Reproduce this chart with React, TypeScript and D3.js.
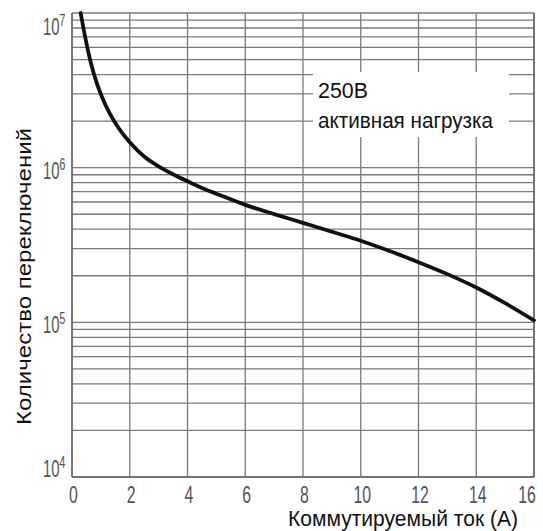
import React from "react";
import * as d3 from "d3";

const currentA = [0.3, 0.45, 0.55, 0.65, 0.85, 1.05, 1.3, 1.6, 2.0, 2.5, 3.0, 3.6, 4.0, 4.5, 5, 6, 7, 8, 9, 10, 11, 12, 13, 14, 15, 16];
const cycles = [1.0e7, 7.08e6, 5.75e6, 4.79e6, 3.56e6, 2.83e6, 2.25e6, 1.82e6, 1.46e6, 1.18e6, 1.02e6, 8.87e5, 8.17e5, 7.4e5, 6.79e5, 5.75e5, 5.01e5, 4.4e5, 3.85e5, 3.37e5, 2.89e5, 2.45e5, 2.05e5, 1.68e5, 1.33e5, 1.03e5];
const xTicks = [0, 2, 4, 6, 8, 10, 12, 14, 16];
const yDecades = [4, 5, 6, 7];
const xTitle = "Коммутируемый ток  (А)";
const yTitle = "Количество переключений";
const noteLines = ["250В", "активная нагрузка"];

export default function App() {
  const W = 543, H = 531;
  const left = 72, right = 534, top = 13, bottom = 477;
  const x = d3.scaleLinear().domain([0, 16]).range([left, right]);
  const y = d3.scaleLog().domain([1e4, 1e7]).range([bottom, top]);

  const gridY: number[] = [];
  for (let d = 4; d < 7; d++) for (let m = 1; m <= 9; m++) gridY.push(m * Math.pow(10, d));
  gridY.push(1e7);

  const data = currentA.map((c, i) => [c, cycles[i]] as [number, number]);
  const line = d3.line<[number, number]>().x(d => x(d[0])).y(d => y(d[1])).curve(d3.curveMonotoneX);

  const grid = "#7a7a7a";
  const font = "Liberation Sans, Arial, sans-serif";

  return (
    <svg width={W} height={H} style={{ position: "absolute", left: 0, top: 0, background: "#fff" }}>
      <rect x={0} y={0} width={W} height={H} fill="#fff" />
      {gridY.map(v => (
        <line key={"h" + v} x1={left} x2={right} y1={y(v)} y2={y(v)} stroke={grid} strokeWidth={1.3} />
      ))}
      {xTicks.map(t => (
        <line key={"v" + t} x1={x(t)} x2={x(t)} y1={top} y2={bottom} stroke={grid} strokeWidth={1.3} />
      ))}
      <line x1={left} x2={left} y1={top} y2={bottom} stroke="#666" strokeWidth={1.5} />
      <line x1={left} x2={right} y1={bottom} y2={bottom} stroke="#666" strokeWidth={1.5} />
      <line x1={right} x2={right} y1={top} y2={bottom} stroke="#666" strokeWidth={1.5} />

      <rect x={313} y={72} width={196} height={65} fill="#fff" />
      <text x={318} y={98} fontFamily={font} fontSize={22} textLength={50} lengthAdjust="spacingAndGlyphs" fill="#111">{noteLines[0]}</text>
      <text x={318} y={128} fontFamily={font} fontSize={22} textLength={175} lengthAdjust="spacingAndGlyphs" fill="#111">{noteLines[1]}</text>

      <path d={line(data) || ""} fill="none" stroke="#111" strokeWidth={3.8} strokeLinecap="round" />

      {xTicks.map(t => (
        <g key={"xl" + t} transform={`translate(${Math.min(x(t) + 1.5, right - 7)},${503}) scale(0.66,1)`}>
          <text textAnchor="middle" fontFamily={font} fontSize={24} fill="#555">{t}</text>
        </g>
      ))}
      {yDecades.map(d => {
        const base = Math.min(Math.max(y(Math.pow(10, d)) + 11, top + 22), bottom);
        return (
          <g key={"yl" + d} transform={`translate(${43},${base}) scale(0.65,1)`}>
            <text fontFamily={font} fontSize={23} fill="#555">10</text>
            <text x={25} y={-9} fontFamily={font} fontSize={17} fill="#555">{d}</text>
          </g>
        );
      })}

      <text x={288} y={526} fontFamily={font} fontSize={22} textLength={230} lengthAdjust="spacingAndGlyphs" fill="#111">{xTitle}</text>
      <text transform={`translate(31,425) rotate(-90)`} fontFamily={font} fontSize={21} textLength={297} lengthAdjust="spacingAndGlyphs" fill="#111">{yTitle}</text>
    </svg>
  );
}
